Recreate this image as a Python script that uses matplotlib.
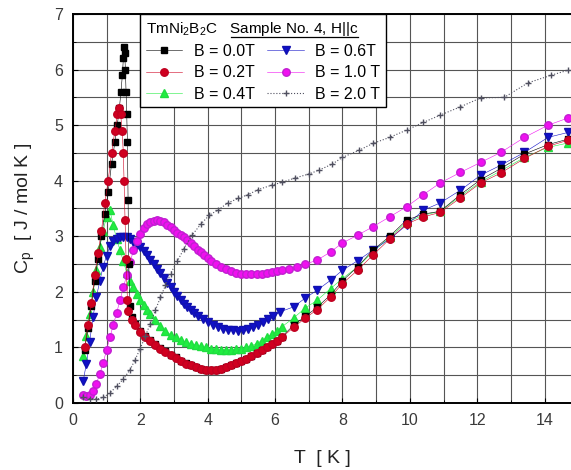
import matplotlib
matplotlib.use('Agg')
import matplotlib.pyplot as plt
from matplotlib.lines import Line2D
from matplotlib.transforms import IdentityTransform

plt.rcParams['font.family'] = ['Liberation Sans', 'DejaVu Sans']

# B = 0.0 T
t_b00 = [0.35, 0.45, 0.55, 0.65, 0.75, 0.85, 0.95, 1.05, 1.15, 1.25, 1.32, 1.38, 1.43, 1.47, 1.5,
         1.52, 1.54, 1.56, 1.58, 1.6, 1.62, 1.64, 1.66, 1.7, 1.75, 1.85, 2.0, 2.15, 2.3, 2.45, 2.6,
         2.75, 2.9, 3.05, 3.2, 3.35, 3.5, 3.65, 3.8, 3.95, 4.1, 4.25, 4.4, 4.55, 4.7, 4.85, 5.0,
         5.15, 5.3, 5.45, 5.6, 5.75, 5.9, 6.05, 6.2, 6.55, 6.9, 7.25, 7.65, 8.0, 8.45, 8.9, 9.4,
         9.9, 10.4, 10.9, 11.5, 12.1, 12.7, 13.4, 14.1, 14.7]
c_b00 = [0.95, 1.35, 1.75, 2.2, 2.6, 3.0, 3.4, 3.8, 4.3, 4.7, 5.0, 5.3, 5.6, 5.9, 6.2,
         6.4, 6.3, 6.0, 5.6, 5.2, 4.7, 3.65, 2.5, 1.75, 1.55, 1.42, 1.29, 1.2, 1.13, 1.06, 0.99,
         0.93, 0.87, 0.82, 0.76, 0.72, 0.68, 0.65, 0.62, 0.6, 0.6, 0.6, 0.62, 0.65, 0.68, 0.72, 0.76,
         0.8, 0.85, 0.9, 0.95, 1.0, 1.06, 1.12, 1.19, 1.4, 1.56, 1.72, 1.95, 2.2, 2.45, 2.75, 3.0,
         3.29, 3.4, 3.45, 3.75, 4.02, 4.22, 4.48, 4.65, 4.75]

# B = 0.2 T
t_b02 = [0.35, 0.45, 0.55, 0.65, 0.75, 0.85, 0.95, 1.05, 1.15, 1.25, 1.32, 1.38, 1.42, 1.46, 1.5,
         1.52, 1.55, 1.58, 1.62, 1.65, 1.75, 1.85, 2.0, 2.15, 2.3, 2.45, 2.6, 2.75, 2.9, 3.05, 3.2,
         3.35, 3.5, 3.65, 3.8, 3.95, 4.1, 4.25, 4.4, 4.55, 4.7, 4.85, 5.0, 5.15, 5.3, 5.45, 5.6,
         5.75, 5.9, 6.05, 6.2, 6.55, 6.9, 7.25, 7.65, 8.0, 8.45, 8.9, 9.4, 9.9, 10.4, 10.9, 11.5,
         12.1, 12.7, 13.4, 14.1, 14.7]
c_b02 = [1.0, 1.4, 1.8, 2.3, 2.7, 3.1, 3.6, 4.0, 4.5, 4.9, 5.2, 5.3, 5.2, 4.9, 4.5,
         4.0, 3.3, 2.6, 1.85, 1.65, 1.5, 1.4, 1.28, 1.19, 1.12, 1.05, 0.98, 0.92, 0.86, 0.81, 0.75,
         0.71, 0.68, 0.65, 0.62, 0.6, 0.59, 0.6, 0.62, 0.65, 0.68, 0.72, 0.76, 0.8, 0.85, 0.9, 0.95,
         1.0, 1.06, 1.12, 1.18, 1.36, 1.53, 1.68, 1.91, 2.15, 2.39, 2.66, 2.95, 3.22, 3.35, 3.43, 3.69,
         3.96, 4.14, 4.4, 4.62, 4.73]

# B = 0.4 T
t_b04 = [0.31, 0.4, 0.5, 0.6, 0.7, 0.8, 0.9, 1.0, 1.1, 1.2, 1.3, 1.4, 1.5, 1.6, 1.7, 1.8, 1.9,
         2.0, 2.1, 2.2, 2.3, 2.45, 2.6, 2.75, 2.9, 3.05, 3.2, 3.35, 3.5, 3.65, 3.8, 3.95, 4.1,
         4.25, 4.4, 4.55, 4.7, 4.85, 5.0, 5.15, 5.3, 5.45, 5.6, 5.75, 5.9, 6.05, 6.2, 6.55, 6.9,
         7.25, 7.65, 8.0, 8.45, 8.9, 9.4, 9.9, 10.4, 10.9, 11.5, 12.1, 12.7, 13.4, 14.1, 14.7]
c_b04 = [0.85, 1.2, 1.6, 2.0, 2.4, 2.8, 3.1, 3.35, 3.47, 3.2, 2.95, 2.75, 2.55, 2.34, 2.2, 2.08, 1.96,
         1.86, 1.77, 1.68, 1.6, 1.49, 1.38, 1.3, 1.23, 1.18, 1.14, 1.1, 1.07, 1.04, 1.02, 1.0, 0.98,
         0.97, 0.96, 0.96, 0.96, 0.97, 0.98, 1.0, 1.03, 1.07, 1.12, 1.18, 1.24, 1.3, 1.37, 1.53, 1.71,
         1.85, 2.06, 2.24, 2.45, 2.72, 2.98, 3.25, 3.38, 3.45, 3.72, 3.98, 4.18, 4.42, 4.6, 4.68]

# B = 0.6 T
t_b06 = [0.31, 0.4, 0.5, 0.6, 0.7, 0.8, 0.9, 1.0, 1.1, 1.2, 1.3, 1.4, 1.5, 1.6, 1.7, 1.8, 1.9, 2.0,
         2.1, 2.2, 2.3, 2.4, 2.5, 2.6, 2.7, 2.8, 2.9, 3.0, 3.1, 3.2, 3.3, 3.4, 3.5, 3.6, 3.7, 3.85,
         4.0, 4.15, 4.3, 4.45, 4.6, 4.75, 4.9, 5.05, 5.2, 5.35, 5.5, 5.65, 5.8, 5.95, 6.15, 6.55,
         6.9, 7.25, 7.65, 8.0, 8.45, 8.9, 9.4, 9.9, 10.4, 10.9, 11.5, 12.1, 12.7, 13.4, 14.1, 14.7]
c_b06 = [0.4, 0.7, 1.1, 1.55, 1.9, 2.2, 2.45, 2.65, 2.82, 2.92, 2.96, 2.98, 2.98, 2.98, 2.95, 2.9,
         2.85, 2.8, 2.74, 2.66, 2.58, 2.5, 2.42, 2.34, 2.25, 2.16, 2.08, 2.0, 1.93, 1.86, 1.79, 1.73,
         1.67, 1.62, 1.57, 1.51, 1.46, 1.41, 1.37, 1.34, 1.32, 1.31, 1.3, 1.31, 1.33, 1.36, 1.4, 1.45,
         1.51, 1.57, 1.64, 1.73, 1.89, 2.03, 2.21, 2.39, 2.56, 2.75, 2.95, 3.2, 3.47, 3.6, 3.83, 4.1,
         4.28, 4.51, 4.78, 4.87]

# B = 1.0 T
t_b10 = [0.31, 0.4, 0.5, 0.6, 0.7, 0.8, 0.9, 1.0, 1.1, 1.2, 1.3, 1.4, 1.5, 1.6, 1.7, 1.8, 1.9, 2.0,
         2.1, 2.2, 2.3, 2.4, 2.5, 2.6, 2.7, 2.8, 2.9, 3.0, 3.1, 3.2, 3.3, 3.4, 3.5, 3.6, 3.7, 3.8,
         3.9, 4.0, 4.1, 4.25, 4.4, 4.55, 4.7, 4.85, 5.0, 5.15, 5.3, 5.45, 5.6, 5.75, 5.9, 6.05,
         6.2, 6.4, 6.65, 6.9, 7.25, 7.65, 8.0, 8.45, 8.9, 9.4, 9.9, 10.4, 10.9, 11.5, 12.1, 12.7,
         13.4, 14.1, 14.7]
c_b10 = [0.15, 0.13, 0.15, 0.22, 0.35, 0.52, 0.72, 0.95, 1.18, 1.4, 1.62, 1.85, 2.08, 2.3, 2.53, 2.75,
         2.92, 3.05, 3.15, 3.22, 3.26, 3.28, 3.29, 3.28, 3.25, 3.21, 3.16, 3.11, 3.06, 3.02, 2.98, 2.93,
         2.88, 2.82, 2.76, 2.71, 2.66, 2.61, 2.56, 2.5, 2.45, 2.41, 2.37, 2.34, 2.33, 2.32, 2.32, 2.32,
         2.33, 2.34, 2.35, 2.37, 2.39, 2.42, 2.45, 2.5, 2.57, 2.72, 2.88, 3.02, 3.17, 3.35, 3.53, 3.75,
         3.96, 4.15, 4.33, 4.51, 4.78, 5.0, 5.13]

# B = 2.0 T
t_b20 = [0.31, 0.5, 0.7, 0.9, 1.1, 1.3, 1.5, 1.7, 1.85, 2.0, 2.15, 2.3, 2.45, 2.6, 2.75, 2.9, 3.1,
         3.3, 3.55, 3.8, 4.05, 4.3, 4.6, 4.9, 5.2, 5.5, 5.9, 6.2, 6.6, 7.0, 7.3, 7.7, 8.0, 8.5, 8.9,
         9.4, 9.9, 10.4, 10.9, 11.5, 12.1, 12.8, 13.5, 14.2, 14.7]
c_b20 = [0.1, 0.08, 0.07, 0.1, 0.18, 0.3, 0.43, 0.6, 0.78, 0.98, 1.2, 1.43, 1.67, 1.9, 2.12, 2.33, 2.55,
         2.78, 3.03, 3.22, 3.38, 3.47, 3.6, 3.68, 3.75, 3.84, 3.92, 3.97, 4.05, 4.12, 4.19, 4.3, 4.42,
         4.55, 4.67, 4.78, 4.91, 5.05, 5.18, 5.33, 5.49, 5.5, 5.76, 5.9, 5.99]

labels = ['B = 0.0T', 'B = 0.2T', 'B = 0.4T', 'B = 0.6T', 'B = 1.0 T', 'B = 2.0 T']

fig = plt.figure(figsize=(5.71, 4.70), dpi=100)
ax = fig.add_axes([72.8 / 571, 1 - 403 / 470, 1 - 72.8 / 571, (403 - 14) / 470])

ms = 5.4
h04, = ax.plot(t_b04, c_b04, '^-', color='#20ee40', mec='#20dd40', lw=0.4, ms=ms, zorder=3)
h06, = ax.plot(t_b06, c_b06, 'v-', color='#1010c8', mec='#1010b0', lw=0.4, ms=ms, zorder=4)
h10, = ax.plot(t_b10, c_b10, 'o-', color='#f010f0', mec='#c020d0', lw=0.4, ms=ms, zorder=5)
h00, = ax.plot(t_b00, c_b00, 's-', color='black', lw=0.4, ms=ms - 0.6, zorder=6)
h02, = ax.plot(t_b02, c_b02, 'o-', color='#d00020', mec='#c00020', lw=0.4, ms=ms, zorder=7)
h20, = ax.plot(t_b20, c_b20, '+:', color='#505060', lw=0.8, ms=4.5, mew=1.0, zorder=8)

ax.set_xlim(0, 14.78)
ax.set_ylim(0, 7)
ax.set_xticks(range(0, 15, 2))
ax.set_xticks(range(0, 15), minor=True)
ax.set_yticks(range(0, 8))
ax.set_yticks([i * 0.5 for i in range(15)], minor=True)
ax.grid(True, which='both', color='#555555', lw=0.8)
ax.set_axisbelow(True)
for side in ['left', 'bottom', 'top']:
    ax.spines[side].set_linewidth(1.4)
ax.spines['right'].set_visible(False)
ax.tick_params(which='both', direction='in', labelsize=11.5, labelcolor='#3a3a3a', pad=7)

ax.set_xlabel('T  [ K ]', fontsize=14, color='#222222', labelpad=16)
ax.set_ylabel('C$_\\mathregular{p}$  [ J / mol K ]', fontsize=14, color='#222222', labelpad=12)

title = 'TmNi$_\\mathregular{2}$B$_\\mathregular{2}$C   Sample No. 4, H||c'
leg = ax.legend([h00, h02, h04, h06, h10, h20], labels, ncol=2, loc='upper left',
                bbox_to_anchor=(67.2 / 498.2, 1.0), fontsize=11.5, title=title,
                title_fontsize=11, alignment='left', frameon=True, fancybox=False,
                edgecolor='black', framealpha=1, handlelength=2.3, handletextpad=0.7,
                columnspacing=0.8, labelspacing=0.4, borderpad=0.35, borderaxespad=0)
leg.get_frame().set_linewidth(1.0)
leg.set_zorder(10)

# underline for "Sample No. 4, H||c"
fig.canvas.draw()
renderer = fig.canvas.get_renderer()
tb = leg.get_title().get_window_extent(renderer)
tmp = fig.text(0, 0, 'Sample No. 4, H||c', fontsize=11)
w = tmp.get_window_extent(renderer).width
tmp.remove()
fig.add_artist(Line2D([tb.x1 - w, tb.x1], [tb.y0 + 1, tb.y0 + 1], transform=IdentityTransform(),
                      color='black', lw=0.9, zorder=20))

plt.savefig('out.png', dpi=100)
